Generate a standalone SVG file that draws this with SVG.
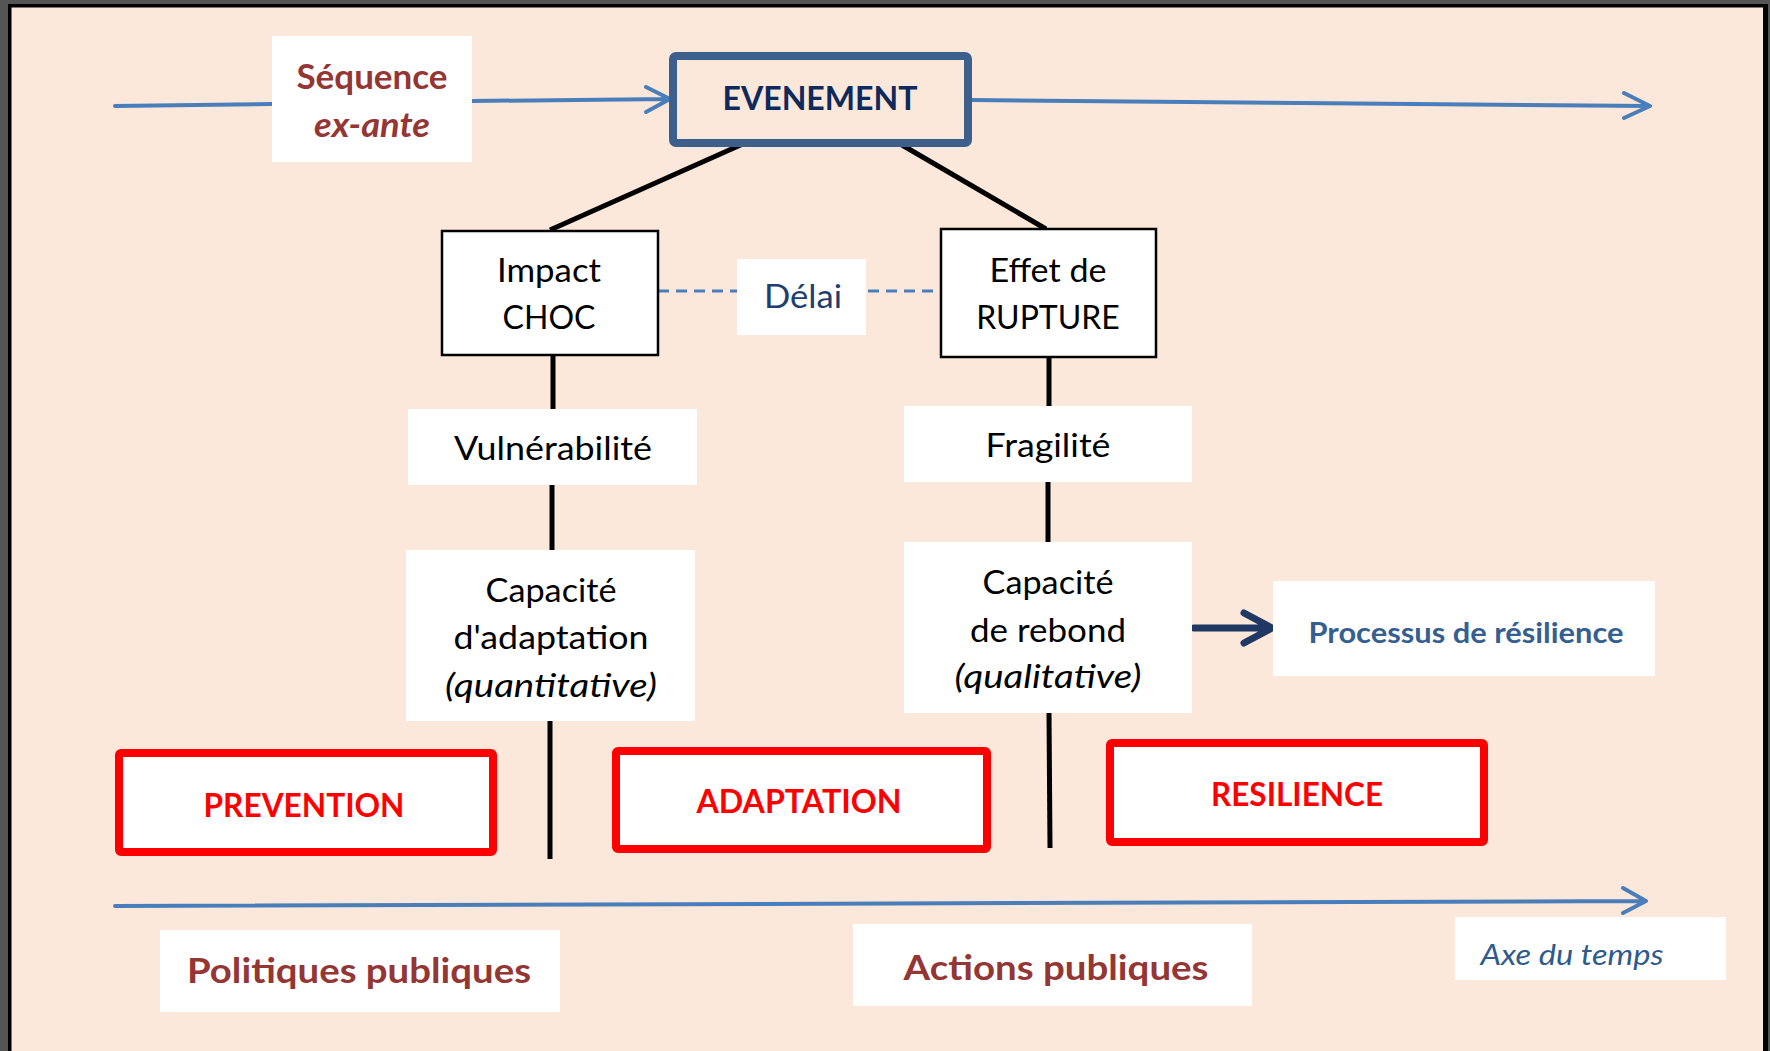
<svg xmlns="http://www.w3.org/2000/svg" width="1770" height="1051" viewBox="0 0 1770 1051">
<defs>
<style>
.t{font-family:Lato,"Open Sans","Liberation Sans",sans-serif;text-anchor:middle}
.blk{fill:#000;font-size:32px}
.red{fill:#FF0000;font-size:33px;font-weight:bold}
.dred{fill:#943634;font-weight:bold}
.box{fill:#fff}
.bbox{fill:#fff;stroke:#000;stroke-width:2.5}
.rbox{fill:#fff;stroke:#FF0000;stroke-width:8}
.blue{stroke:#4A7EBB;stroke-width:4;fill:none;stroke-linecap:round;stroke-linejoin:round}
.conn{stroke:#000;stroke-width:5;fill:none}
</style>
</defs>
<rect x="0" y="0" width="1770" height="1051" fill="#555"/>
<rect x="8" y="4" width="1760" height="1047" fill="#000"/>
<rect x="11.5" y="7.5" width="1751.5" height="1043.5" fill="#FCE8DA"/>

<g id="connectors">
<path class="blue" d="M115 106 L272 104"/>
<path class="blue" d="M472 101 L669 99 M646 87 L670 99 L646 112"/>
<path class="blue" d="M972 100 L1649 106 M1624 93 L1650 106 L1624 118"/>
<path class="blue" d="M115 906 L1645 901 M1623 888 L1646 901 L1623 913"/>
<line class="conn" x1="745" y1="143" x2="550" y2="230"/>
<line class="conn" x1="902" y1="145" x2="1046" y2="229"/>
<line x1="658" y1="291" x2="737" y2="291" stroke="#4A7EBB" stroke-width="3" stroke-dasharray="11 7"/>
<line x1="868" y1="291" x2="936" y2="291" stroke="#4A7EBB" stroke-width="3" stroke-dasharray="11 7"/>
<line class="conn" x1="553" y1="355" x2="553" y2="409" stroke-width="4"/>
<line class="conn" x1="552" y1="485" x2="552" y2="550" stroke-width="4"/>
<line class="conn" x1="550" y1="721" x2="550" y2="859" stroke-width="4"/>
<line class="conn" x1="1049" y1="357" x2="1049" y2="406" stroke-width="4"/>
<line class="conn" x1="1048" y1="482" x2="1048" y2="542" stroke-width="4"/>
<line class="conn" x1="1049" y1="713" x2="1050" y2="848" stroke-width="4"/>
<path d="M1194 628 L1268 628 M1244 613 L1272 628 L1244 643" stroke="#1F3864" stroke-width="7" fill="none" stroke-linecap="round" stroke-linejoin="round"/>
</g>

<g id="sequence">
<rect class="box" x="272" y="36" width="200" height="126"/>
<text class="t dred" x="372" y="89" font-size="35">Séquence</text>
<text class="t dred" x="372" y="137" font-size="35" font-style="italic" textLength="116" lengthAdjust="spacingAndGlyphs">ex-ante</text>
</g>

<g id="evenement">
<rect x="673" y="56" width="295" height="87" rx="3" fill="#FCE8DA" stroke="#3C5F8C" stroke-width="8"/>
<text class="t" x="820" y="110" font-size="33" font-weight="bold" fill="#0E2A5C" textLength="195" lengthAdjust="spacingAndGlyphs">EVENEMENT</text>
</g>

<g id="impact">
<rect class="bbox" x="442" y="231" width="216" height="124"/>
<text class="t blk" x="549" y="282" textLength="104" lengthAdjust="spacingAndGlyphs">Impact</text>
<text class="t blk" x="549" y="329">CHOC</text>
</g>

<g id="delai">
<rect class="box" x="737" y="259" width="129" height="76"/>
<text class="t" x="803" y="308" font-size="32" fill="#1F3D6E" textLength="78" lengthAdjust="spacingAndGlyphs">Délai</text>
</g>

<g id="rupture">
<rect class="bbox" x="941" y="229" width="215" height="128"/>
<text class="t blk" x="1048" y="282" textLength="117" lengthAdjust="spacingAndGlyphs">Effet de</text>
<text class="t blk" x="1048" y="329">RUPTURE</text>
</g>

<g id="vulnerabilite">
<rect class="box" x="408" y="409" width="289" height="76"/>
<text class="t blk" x="553" y="460" textLength="198" lengthAdjust="spacingAndGlyphs">Vulnérabilité</text>
</g>

<g id="fragilite">
<rect class="box" x="904" y="406" width="288" height="76"/>
<text class="t blk" x="1048" y="457" textLength="125" lengthAdjust="spacingAndGlyphs">Fragilité</text>
</g>

<g id="capacite-adaptation">
<rect class="box" x="406" y="550" width="289" height="171"/>
<text class="t blk" x="551" y="602" textLength="131" lengthAdjust="spacingAndGlyphs">Capacité</text>
<text class="t blk" x="551" y="649" textLength="195" lengthAdjust="spacingAndGlyphs">d'adaptation</text>
<text class="t blk" x="551" y="697" font-style="italic" textLength="212" lengthAdjust="spacingAndGlyphs">(quantitative)</text>
</g>

<g id="capacite-rebond">
<rect class="box" x="904" y="542" width="288" height="171"/>
<text class="t blk" x="1048" y="594" textLength="131" lengthAdjust="spacingAndGlyphs">Capacité</text>
<text class="t blk" x="1048" y="642" textLength="156" lengthAdjust="spacingAndGlyphs">de rebond</text>
<text class="t blk" x="1048" y="688" font-style="italic" textLength="187" lengthAdjust="spacingAndGlyphs">(qualitative)</text>
</g>

<g id="processus">
<rect class="box" x="1273" y="581" width="382" height="95"/>
<text class="t" x="1466" y="643" font-size="29" font-weight="bold" fill="#365F91" textLength="315" lengthAdjust="spacingAndGlyphs">Processus de résilience</text>
</g>

<g id="prevention">
<rect class="rbox" x="119" y="753" width="374" height="99" rx="2"/>
<text class="t red" x="304" y="817" textLength="201" lengthAdjust="spacingAndGlyphs">PREVENTION</text>
</g>

<g id="adaptation">
<rect class="rbox" x="616" y="751" width="371" height="98" rx="2"/>
<text class="t red" x="799" y="813" textLength="205" lengthAdjust="spacingAndGlyphs">ADAPTATION</text>
</g>

<g id="resilience">
<rect class="rbox" x="1110" y="743" width="374" height="99" rx="2"/>
<text class="t red" x="1297" y="806" textLength="172" lengthAdjust="spacingAndGlyphs">RESILIENCE</text>
</g>

<g id="politiques">
<rect class="box" x="160" y="930" width="400" height="82"/>
<text class="t dred" x="359" y="983" font-size="35" textLength="344" lengthAdjust="spacingAndGlyphs">Politiques publiques</text>
</g>

<g id="actions">
<rect class="box" x="853" y="924" width="399" height="82"/>
<text class="t dred" x="1056" y="980" font-size="34" textLength="305" lengthAdjust="spacingAndGlyphs">Actions publiques</text>
</g>

<g id="axe">
<rect class="box" x="1455" y="917" width="271" height="63"/>
<text class="t" x="1572" y="965" font-size="29" font-style="italic" fill="#2E5A8C" textLength="183" lengthAdjust="spacingAndGlyphs">Axe du temps</text>
</g>
</svg>
